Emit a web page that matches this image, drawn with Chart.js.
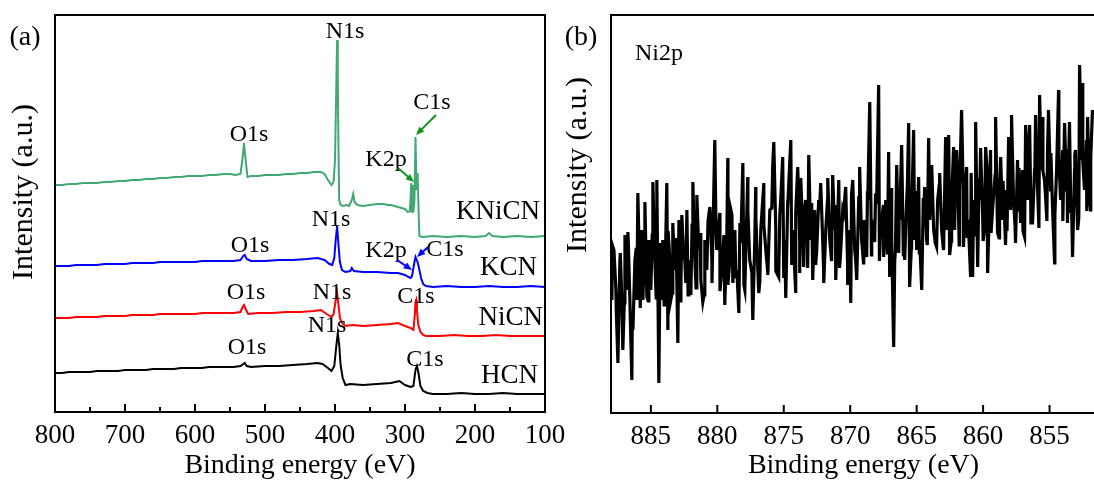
<!DOCTYPE html>
<html>
<head>
<meta charset="utf-8">
<script src="https://cdn.jsdelivr.net/npm/chart.js@4.4.0/dist/chart.umd.min.js"></script>
<style>
  html, body { margin: 0; padding: 0; background: #fff; overflow: hidden; width: 1094px; height: 485px; }
  #wrapA { position: absolute; left: 0; top: 0; width: 580px; height: 485px; }
  #wrapB { position: absolute; left: 560px; top: 0; width: 600px; height: 485px; }
</style>
</head>
<body>
<div id="wrapA"><canvas id="surveyChart" width="580" height="485"></canvas></div>
<div id="wrapB"><canvas id="ni2pChart" width="600" height="485"></canvas></div>
<script>
// (a) survey spectra: [binding energy (eV), intensity (a.u.)]
const kniCN = [
  [800,227],[790,227],[780,228],[770,228],[760,229],[750,229],[740,229],[730,230],[720,230],[710,231],
  [700,231],[690,232],[680,232],[670,233],[660,233],[650,234],[640,234],[630,235],[620,235],[610,236],
  [600,236],[590,236],[580,237],[570,237],[560,238],[550,238],[542,237],[535,238],[532,254],[530,269],
  [528,254],[525,235],[520,236],[510,236],[500,237],[490,237],[480,237],[470,238],[460,238],[450,239],
  [440,239],[430,240],[420,240],[415,238],[410,232],[405,227],[402,230],[400,252],[398,332],[397,372],
  [396,332],[395,262],[394,212],[392,207],[388,206],[384,207],[380,206],[376,212],[374,218],[372,210],
  [368,207],[360,206],[350,207],[340,208],[330,208],[325,207],[320,207],[315,206],[310,205],[305,204],
  [300,203],[296,200],[293,201],[291,229],[290,200],[289,227],[288,200],[286.5,212],[285,275],[283.5,222],
  [282,239],[281,212],[279.5,176],[275,175],[260,176],[240,175],[220,176],[200,175],[185,176],[180,179],
  [175,176],[160,175],[140,176],[120,175],[100,176]
];
const kCN = [
  [800,146],[790,146],[780,146],[770,147],[760,147],[750,147],[740,147],[730,148],[720,148],[710,148],
  [700,148],[690,149],[680,149],[670,149],[660,149],[650,150],[640,150],[630,150],[620,150],[610,150],
  [600,150],[590,151],[580,151],[570,151],[560,151],[545,151],[535,152],[531,156],[529,157],[526,153],
  [520,151],[500,151],[480,152],[460,152],[440,153],[425,154],[415,152],[408,148],[404,147],[401,154],
  [399,172],[397,186],[395,167],[393,150],[390,142],[385,140],[378,141],[376,144],[373,141],[360,140],
  [340,140],[320,139],[310,139],[300,137],[295,135],[292,134],[290,136],[288,144],[286,152],[285,155],
  [284,153],[282,150],[280,144],[277,134],[274,128],[270,126],[260,125],[240,126],[220,125],[200,125],
  [180,126],[160,125],[140,125],[120,126],[100,125]
];
const niCN = [
  [800,94],[790,94],[780,94],[770,95],[760,95],[750,95],[740,95],[730,96],[720,96],[710,96],
  [700,96],[690,97],[680,97],[670,97],[660,97],[650,98],[640,98],[630,98],[620,98],[610,98],
  [600,98],[590,99],[580,99],[570,99],[560,99],[545,99],[535,100],[532,105],[530,107],[527,102],
  [524,98],[510,99],[490,99],[470,100],[450,100],[430,101],[420,102],[412,98],[405,95],[402,98],
  [399,112],[397,119],[395,107],[393,94],[390,89],[385,86],[375,87],[360,86],[340,87],[320,88],
  [310,89],[300,86],[292,84],[288,82],[286,97],[285,110],[284,112],[283,102],[281,87],[278,80],
  [274,77],[270,76],[250,76],[230,77],[210,76],[190,76],[170,77],[150,76],[130,76],[100,76]
];
const hCN = [
  [800,39],[790,39],[780,40],[770,40],[760,40],[750,40],[740,41],[730,41],[720,41],[710,41],
  [700,42],[690,42],[680,42],[670,42],[660,43],[650,43],[640,43],[630,43],[620,44],[610,44],
  [600,44],[590,44],[580,45],[570,45],[560,45],[545,45],[535,46],[531,48],[529,49],[526,46],
  [520,45],[500,46],[480,46],[460,47],[440,48],[425,49],[418,48],[410,44],[405,41],[401,46],
  [398,67],[396,79],[394,67],[392,47],[389,34],[385,27],[378,28],[360,27],[340,28],[320,29],
  [308,31],[300,27],[292,25],[288,26],[285,42],[283,46],[281,40],[278,26],[274,21],[268,19],
  [260,18],[240,18],[220,19],[200,18],[180,18],[160,19],[140,18],[120,18],[100,18]
];

// (b) Ni2p region, spike tips and dips: [binding energy (eV), intensity (a.u.)]
const ni2p = [
  [888.08,143],[887.93,113],[887.78,163],[887.63,123],[887.48,50],[887.33,153],[887.18,113],[887.11,63],[886.95,178],[886.80,123],
  [886.73,181],[886.58,113],[886.43,33],[886.35,83],[886.20,153],[886.05,113],[885.98,220],[885.83,133],[885.68,183],[885.60,113],
  [885.45,211],[885.30,116],[885.15,173],[885.00,123],[884.85,231],[884.70,153],[884.55,233],[884.40,30],[884.25,113],[884.10,173],
  [883.95,123],[883.80,230],[883.72,83],[883.57,153],[883.50,113],[883.35,190],[883.20,143],[882.97,70],[882.89,193],[882.74,123],
  [882.67,198],[882.52,153],[882.37,130],[882.29,203],[882.14,153],[881.99,118],[881.84,231],[881.69,153],[881.54,218],[881.39,163],
  [881.24,133],[881.09,111],[880.94,173],[880.79,143],[880.56,206],[880.41,153],[880.19,273],[880.04,163],[879.81,200],[879.66,143],
  [879.44,108],[879.29,173],[879.21,255],[879.06,153],[878.98,203],[878.83,130],[878.68,183],[878.53,143],[878.38,100],[878.23,170],
  [878.08,250],[877.93,123],[877.71,236],[877.56,153],[877.33,93],[877.18,173],[877.11,226],[876.95,143],[876.88,120],[876.73,183],
  [876.50,230],[876.35,163],[876.20,140],[876.05,203],[875.83,248],[875.75,271],[875.60,183],[875.38,136],[875.23,213],[875.08,256],
  [874.92,173],[874.85,115],[874.70,213],[874.47,273],[874.32,183],[874.10,120],[873.95,246],[873.80,173],[873.72,235],[873.57,183],
  [873.50,146],[873.35,213],[873.12,258],[872.97,173],[872.82,133],[872.67,203],[872.52,163],[872.37,213],[872.22,230],[872.07,173],
  [871.99,130],[871.84,183],[871.69,235],[871.54,173],[871.32,238],[871.17,183],[871.09,133],[870.94,193],[870.86,233],[870.71,163],
  [870.56,203],[870.34,226],[870.19,128],[870.04,183],[869.96,110],[869.81,233],[869.66,163],[869.51,133],[869.36,213],[869.29,246],
  [869.14,173],[868.98,193],[868.76,156],[868.68,213],[868.53,311],[868.38,193],[868.16,171],[868.01,213],[867.86,328],[867.71,183],
  [867.48,156],[867.33,213],[867.18,183],[867.11,261],[867.03,136],[866.88,173],[866.73,66],[866.65,153],[866.50,248],[866.35,160],
  [866.28,193],[866.13,268],[865.98,183],[865.90,153],[865.75,213],[865.60,290],[865.53,126],[865.38,193],[865.23,283],[865.15,173],
  [865.00,163],[864.85,236],[864.77,173],[864.62,123],[864.47,193],[864.40,226],[864.25,173],[864.10,275],[864.02,193],[863.87,248],
  [863.72,183],[863.50,166],[863.42,213],[863.27,240],[863.12,183],[862.97,163],[862.82,276],[862.74,183],[862.59,278],[862.52,158],
  [862.37,213],[862.22,266],[862.14,183],[861.99,263],[861.84,193],[861.77,223],[861.62,303],[861.47,166],[861.39,213],[861.24,246],
  [861.09,183],[860.94,136],[860.79,136],[860.71,213],[860.56,291],[860.41,146],[860.26,213],[860.19,265],[860.04,203],[859.89,183],
  [859.81,266],[859.66,140],[859.51,213],[859.44,263],[859.29,203],[859.06,296],[858.91,180],[858.76,223],[858.68,256],[858.53,193],
  [858.31,168],[858.23,223],[858.08,276],[857.93,203],[857.86,298],[857.71,213],[857.56,170],[857.41,253],[857.33,203],[857.18,190],
  [857.03,243],[856.88,176],[856.80,288],[856.65,213],[856.50,288],[856.43,223],[856.28,190],[856.13,243],[856.05,298],[855.90,223],
  [855.75,318],[855.60,243],[855.53,296],[855.38,233],[855.30,216],[855.15,263],[855.08,303],[854.92,223],[854.77,203],[854.62,150],
  [854.47,243],[854.32,323],[854.17,213],[854.02,263],[853.87,290],[853.72,223],[853.65,190],[853.50,291],[853.35,213],[853.27,156],
  [853.12,243],[853.05,263],[852.89,183],[852.74,348],[852.59,253],[852.52,330],[852.37,223],[852.22,273],[852.14,296],[851.99,213],
  [851.92,203],[851.77,303]
];
// (b) Ni2p region, the dense core of the trace between the spikes
const ni2pCore = [
  [887.9,168],[887.6,102],[887.3,160],[887.0,110],[886.7,172],[886.4,98],[886.1,165],[885.8,105],[885.5,158],[885.2,112],
  [884.9,178],[884.6,115],[884.3,170],[884.0,108],[883.7,182],[883.4,120],[883.1,175],[882.8,112],[882.5,168],[882.2,118],
  [881.9,188],[881.6,125],[881.3,180],[881.0,118],[880.7,192],[880.4,130],[880.1,185],[879.8,122],[879.5,178],[879.2,128],
  [878.9,198],[878.6,135],[878.3,190],[878.0,128],[877.7,202],[877.4,140],[877.1,195],[876.8,132],[876.5,188],[876.2,138],
  [875.9,205],[875.6,142],[875.3,198],[875.0,135],[874.7,208],[874.4,148],[874.1,200],[873.8,140],[873.5,195],[873.2,145],
  [872.9,210],[872.6,148],[872.3,205],[872.0,142],[871.7,215],[871.4,152],[871.1,208],[870.8,145],[870.5,200],[870.2,150],
  [869.9,218],[869.6,155],[869.3,212],[869.0,150],[868.7,222],[868.4,158],[868.1,215],[867.8,152],[867.5,208],[867.2,160],
  [866.9,225],[866.6,162],[866.3,218],[866.0,158],[865.7,228],[865.4,165],[865.1,222],[864.8,160],[864.5,215],[864.2,168],
  [863.9,232],[863.6,170],[863.3,228],[863.0,165],[862.7,236],[862.4,172],[862.1,230],[861.8,168],[861.5,225],[861.2,175],
  [860.9,240],[860.6,178],[860.3,235],[860.0,172],[859.7,244],[859.4,180],[859.1,238],[858.8,175],[858.5,232],[858.2,182],
  [857.9,250],[857.6,188],[857.3,245],[857.0,182],[856.7,254],[856.4,190],[856.1,248],[855.8,185],[855.5,242],[855.2,192],
  [854.9,260],[854.6,198],[854.3,255],[854.0,192],[853.7,264],[853.4,200],[853.1,258],[852.8,195],[852.5,252],[852.2,202],
  [851.9,256]
];

// annotation text: [label, energy, intensity, align]
const surveyLabels = [
  ['N1s', 385.7, 380], ['O1s', 522.9, 277], ['C1s', 261.4, 309], ['K2p', 327.1, 252], ['KNiCN', 107, 200, 'right'],
  ['N1s', 405.7, 192], ['O1s', 521.4, 166], ['K2p', 327.1, 161], ['C1s', 242.9, 162], ['KCN', 111.4, 144, 'right'],
  ['O1s', 527.1, 119], ['N1s', 404.3, 119], ['C1s', 284.3, 115], ['NiCN', 103, 94, 'right'],
  ['O1s', 525.7, 64], ['N1s', 411.4, 86], ['C1s', 271.4, 52], ['HCN', 110, 36, 'right']
];
// arrows: [fromE, fromI, toE, toI, colour]
const surveyArrows = [
  [255.7, 297, 284.3, 277, '#12921c'],
  [310, 244, 287.1, 230, '#12921c'],
  [311.4, 152, 290, 142, '#0000ff'],
  [267.1, 165, 282.9, 155, '#0000ff']
];

const serif = 'Liberation Serif';
Chart.defaults.font.family = serif;
Chart.defaults.color = '#000';

function toPoints(pairs) {
  return pairs.map(p => ({ x: p[0], y: p[1] }));
}

// frame and inward ticks along the bottom edge
function frameTicks(major, minor, majorLen, minorLen) {
  return {
    id: 'frameTicks',
    afterDraw(chart) {
      const { ctx, chartArea: a, scales: { x } } = chart;
      ctx.save();
      ctx.strokeStyle = '#000';
      ctx.lineWidth = 2;
      ctx.strokeRect(a.left, a.top, a.right - a.left, a.bottom - a.top);
      ctx.beginPath();
      for (let v = Math.ceil(x.min / minor) * minor; v <= x.max; v += minor) {
        const px = x.getPixelForValue(v);
        if (px <= a.left + 1 || px >= a.right - 1) continue;
        const len = (Math.abs(v % major) < 1e-6) ? majorLen : minorLen;
        ctx.moveTo(px, a.bottom);
        ctx.lineTo(px, a.bottom - len);
      }
      ctx.stroke();
      ctx.restore();
    }
  };
}

function drawArrow(ctx, x1, y1, x2, y2, color) {
  const ang = Math.atan2(y2 - y1, x2 - x1);
  const head = 9;
  ctx.strokeStyle = color;
  ctx.fillStyle = color;
  ctx.lineWidth = 2;
  ctx.beginPath();
  ctx.moveTo(x1, y1);
  ctx.lineTo(x2 - Math.cos(ang) * head * 0.8, y2 - Math.sin(ang) * head * 0.8);
  ctx.stroke();
  ctx.beginPath();
  ctx.moveTo(x2, y2);
  ctx.lineTo(x2 - head * Math.cos(ang - 0.4), y2 - head * Math.sin(ang - 0.4));
  ctx.lineTo(x2 - head * Math.cos(ang + 0.4), y2 - head * Math.sin(ang + 0.4));
  ctx.closePath();
  ctx.fill();
}

function yTitle(ctx, cx, cy) {
  ctx.save();
  ctx.translate(cx, cy);
  ctx.rotate(-Math.PI / 2);
  ctx.fillStyle = '#000';
  ctx.font = '30px "' + serif + '"';
  ctx.textAlign = 'center';
  ctx.textBaseline = 'middle';
  ctx.fillText('Intensity (a.u.)', 0, 0);
  ctx.restore();
}

const surveyText = {
  id: 'surveyText',
  afterDatasetsDraw(chart) {
    const { ctx, scales: { x, y } } = chart;
    ctx.save();
    ctx.textBaseline = 'middle';
    surveyLabels.forEach(l => {
      const big = l[3] === 'right';
      ctx.font = (big ? 27 : 24) + 'px "' + serif + '"';
      ctx.textAlign = l[3] || 'center';
      ctx.fillStyle = '#000';
      ctx.fillText(l[0], x.getPixelForValue(l[1]), y.getPixelForValue(l[2]));
    });
    surveyArrows.forEach(r => {
      drawArrow(ctx, x.getPixelForValue(r[0]), y.getPixelForValue(r[1]),
        x.getPixelForValue(r[2]), y.getPixelForValue(r[3]), r[4]);
    });
    ctx.fillStyle = '#000';
    ctx.font = '28px "' + serif + '"';
    ctx.textAlign = 'center';
    ctx.fillText('(a)', 25, 38);
    ctx.restore();
    yTitle(ctx, 24, 192);
  }
};

const niText = {
  id: 'niText',
  afterDatasetsDraw(chart) {
    const { ctx } = chart;
    ctx.save();
    ctx.textBaseline = 'middle';
    ctx.fillStyle = '#000';
    ctx.font = '24px "' + serif + '"';
    ctx.textAlign = 'left';
    ctx.fillText('Ni2p', 75, 54);
    ctx.font = '28px "' + serif + '"';
    ctx.textAlign = 'center';
    ctx.fillText('(b)', 21, 38);
    ctx.restore();
    yTitle(ctx, 18, 165);
  }
};

function axisX(min, max, step, height) {
  return {
    type: 'linear', reverse: true, min: min, max: max,
    grid: { display: false, drawTicks: false },
    border: { display: false },
    ticks: { stepSize: step, includeBounds: false, autoSkip: false, maxRotation: 0,
             padding: 8, color: '#000', font: { family: serif, size: 27 } },
    title: { display: true, text: 'Binding energy (eV)', color: '#000',
             font: { family: serif, size: 28 }, padding: { top: 0, bottom: 3 } },
    afterFit: s => { s.height = height; s.paddingLeft = 0; s.paddingRight = 0; }
  };
}

function axisY(max, width) {
  return {
    min: 0, max: max,
    grid: { display: false, drawTicks: false },
    border: { display: false },
    ticks: { display: false },
    afterFit: s => { s.width = width; s.paddingTop = 0; s.paddingBottom = 0; }
  };
}

function lineSet(pairs, color, width) {
  return {
    data: toPoints(pairs), borderColor: color, borderWidth: width,
    pointRadius: 0, tension: 0, fill: false
  };
}

new Chart(document.getElementById('surveyChart'), {
  type: 'line',
  data: {
    datasets: [
      lineSet(kniCN, '#41a872', 2),
      lineSet(kCN, '#0000ff', 2),
      lineSet(niCN, '#ff0000', 2),
      lineSet(hCN, '#000000', 2)
    ]
  },
  options: {
    responsive: false,
    animation: false,
    layout: { padding: { top: 15, right: 35, left: 0, bottom: 0 } },
    plugins: { legend: { display: false }, tooltip: { enabled: false } },
    scales: { x: axisX(100, 800, 100, 73), y: axisY(397, 55) }
  },
  plugins: [frameTicks(100, 50, 8, 5), surveyText]
});

// spike tips and core readings merged in energy order
const ni2pTrace = ni2p.concat(ni2pCore).sort((a, b) => b[0] - a[0]);

new Chart(document.getElementById('ni2pChart'), {
  type: 'line',
  data: { datasets: [lineSet(ni2pTrace, '#000000', 3.2)] },
  options: {
    responsive: false,
    animation: false,
    layout: { padding: { top: 15, right: 44, left: 0, bottom: 0 } },
    plugins: { legend: { display: false }, tooltip: { enabled: false } },
    scales: { x: axisX(850, 888, 5, 72), y: axisY(398, 51) }
  },
  plugins: [frameTicks(5, 5, 8, 8), niText]
});
</script>
</body>
</html>
